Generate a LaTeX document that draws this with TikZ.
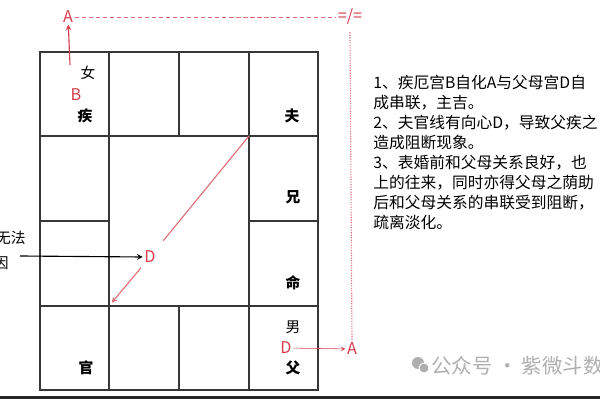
\documentclass[tikz,border=0pt]{standalone}
\usepackage{fontspec}
\setmainfont{Noto Sans CJK SC}
\usepackage{xcolor}
\definecolor{mark-red}{RGB}{214,62,78}
\definecolor{line-red}{RGB}{222,110,120}
\definecolor{grid-gray}{RGB}{55,55,55}
\definecolor{wm-gray}{RGB}{175,175,175}
\usetikzlibrary{calc}

\begin{document}
\begin{tikzpicture}[>=stealth, x=0.025cm, y=-0.025cm,
	palace/.style={inner sep=1pt, font=\fontsize{10.5}{12}\selectfont\bfseries},
	gender/.style={inner sep=1pt, font=\fontsize{10.5}{12}\selectfont},
	redmark/.style={inner sep=1pt, text=mark-red, font=\fontsize{11.5}{12}\selectfont}]
	\useasboundingbox (0,0) rectangle (600,400);
	\fill[white] (0,0) rectangle (600,400);

	% twelve palaces
	\coordinate (TL) at (40,52);
	\coordinate (BR) at (318,390);
	\coordinate (IN1) at (249,136);
	\coordinate (IN2) at (109,306);

	\draw[grid-gray, line width=0.9pt] (TL) rectangle (BR);
	\draw[grid-gray, line width=0.9pt]
		(109,52)--(109,390) (249,52)--(249,390)
		(179,52)--(179,136) (179,306)--(179,390)
		(40,136)--(318,136) (40,306)--(318,306)
		(40,221)--(109,221) (249,221)--(318,221);

	\node[gender] (nv)   at (88,73)   {女};
	\node[redmark] (B)   at (76,95)   {B};
	\node[palace] (ji)   at (85,116)  {疾};
	\node[palace] (fu)   at (292,116) {夫};
	\node[palace] (xiong) at (293,197) {兄};
	\node[palace] (ming) at (293,283) {命};
	\node[gender] (nan)  at (293,327) {男};
	\node[redmark] (D2)  at (286,348) {D};
	\node[palace] (fuq)  at (293,368) {父};
	\node[palace] (guan) at (86,368)  {官};

	% self-transform A
	\node[redmark] (A1) at (68,17) {A};
	\coordinate (B0) at (70,65);
	\draw[->, mark-red, thick] (B0)--(A1);
	\node[redmark] (A2) at (352,349) {A};
	\draw[->, mark-red] (D2)--(A2);

	\node[redmark] (neq) at (350,17) {=/=};
	\draw[line-red, densely dashed] (A1.east)--(neq.west);
	\draw[line-red, densely dotted, thick] ([yshift=-4pt]neq.south)--(A2.north);

	% centripetal D
	\node[redmark] (D1) at (150,257) {D};
	\draw[line-red, thick, shorten >=8pt] (IN1)--(D1);
	\draw[->, line-red, thick, shorten <=3pt, shorten >=3pt] (D1)--(IN2);

	\node[inner sep=0pt, anchor=east, font=\fontsize{10.5}{12}\selectfont] (wufa) at (26,238) {无法};
	\node[inner sep=0pt, anchor=east, font=\fontsize{10.5}{12}\selectfont] (yin) at (9,263) {因};
	\coordinate (W0) at (20,256);
	\draw[->, thick] (W0)--(D1.west);

	% notes
	\node[anchor=north west, inner sep=0pt, align=left,
		font=\fontsize{11.2}{14.2}\selectfont] (notes) at (373,75) {%
		1、疾厄宫B自化A与父母宫D自\\
		成串联，主吉。\\
		2、夫官线有向心D，导致父疾之\\
		造成阻断现象。\\
		3、表婚前和父母关系良好，也\\
		上的往来，同时亦得父母之荫助\\
		后和父母关系的串联受到阻断，\\
		疏离淡化。};

	% watermark
	\fill[wm-gray] (418,363) circle (6);
	\fill[wm-gray, draw=white, line width=0.6pt] (424,368) circle (5);
	\node[anchor=west, inner sep=0pt, text=wm-gray,
		font=\fontsize{14.5}{15}\selectfont] (wm) at (431,366) {公众号 · 紫微斗数};

	\draw[black!85, line width=1.6pt] (0,397.5)--(600,397.5);
\end{tikzpicture}
\end{document}
